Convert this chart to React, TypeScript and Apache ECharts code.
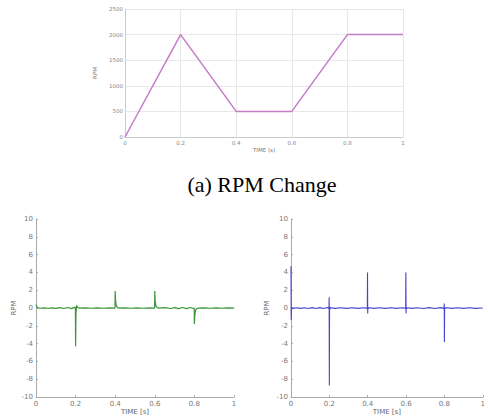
import React, { useEffect, useRef } from "react";
import * as echarts from "echarts";

const rpmTime = [0, 0.2, 0.4, 0.6, 0.8, 1];
const rpmValues = [0, 2000, 500, 500, 2000, 2000];

const errTimeA = [
  0, 0.003, 0.008, 0.02, 0.04, 0.06, 0.08, 0.1, 0.12, 0.14, 0.16, 0.18, 0.195, 0.199, 0.2, 0.202,
  0.205, 0.208, 0.212, 0.22, 0.25, 0.28, 0.31, 0.34, 0.37, 0.39, 0.399, 0.4, 0.402, 0.405,
  0.408, 0.412, 0.42, 0.45, 0.48, 0.51, 0.54, 0.57, 0.59, 0.599, 0.6, 0.602, 0.605, 0.608,
  0.612, 0.62, 0.65, 0.68, 0.7, 0.72, 0.74, 0.76, 0.78, 0.795, 0.799, 0.8, 0.802, 0.805,
  0.808, 0.812, 0.82, 0.85, 0.88, 0.91, 0.94, 0.97, 1,
];
const errValuesA = [
  0.4, 0.2, 0.05, -0.02, 0.02, -0.02, 0.03, -0.04, 0.05, -0.05, 0.06, -0.06, 0.08, 0.05, -4.3, -0.6,
  0.3, 0.15, 0.05, 0, 0.02, -0.02, 0.02, -0.02, 0.02, 0, 0, 1.9, 0.8, 0.35,
  0.15, 0.05, 0, 0.02, -0.02, 0.02, -0.02, 0.02, 0, 0, 1.9, 0.8, 0.35, 0.15,
  0.05, 0, 0.04, -0.05, 0.05, -0.06, 0.06, -0.06, 0.06, -0.05, 0, -1.8, -0.8, -0.35,
  -0.15, -0.05, 0, 0.02, -0.02, 0.02, -0.02, 0.01, 0,
];

const errTimeB = [
  0, 0.001, 0.003, 0.01, 0.03, 0.05, 0.07, 0.09, 0.11, 0.13, 0.15, 0.17, 0.19, 0.198, 0.199,
  0.2, 0.201, 0.204, 0.21, 0.23, 0.26, 0.29, 0.32, 0.35, 0.38, 0.398, 0.399, 0.4, 0.401,
  0.404, 0.41, 0.43, 0.46, 0.49, 0.52, 0.55, 0.58, 0.598, 0.599, 0.6, 0.601, 0.604, 0.61,
  0.63, 0.66, 0.69, 0.72, 0.75, 0.78, 0.798, 0.799, 0.8, 0.801, 0.804, 0.81, 0.84, 0.87,
  0.9, 0.93, 0.96, 1,
];
const errValuesB = [
  4.7, -1.3, 0.1, -0.04, 0.04, -0.04, 0.04, -0.05, 0.05, -0.05, 0.05, -0.06, 0.06, -0.06, 1.2,
  -8.7, 0.2, -0.08, 0.04, -0.04, 0.04, -0.04, 0.04, -0.04, 0.04, -0.04, 4.0, -0.6, 0.1,
  -0.04, 0.04, -0.04, 0.04, -0.04, 0.04, -0.04, 0.04, -0.04, 4.0, -0.6, 0.1, -0.04, 0.04,
  -0.04, 0.04, -0.05, 0.05, -0.05, 0.05, -0.04, 0.5, -3.8, 0.1, -0.04, 0.04, -0.04, 0.04,
  -0.04, 0.04, -0.04, 0,
];

const toPairs = (t: number[], v: number[]) => t.map((x, i) => [x, v[i]]);

export default function App() {
  const ref = useRef<HTMLDivElement>(null);
  useEffect(() => {
    if (!ref.current) return;
    const chart = echarts.init(ref.current, undefined, { renderer: "svg" });
    const smallLabel = { fontSize: 7, color: "#777", fontFamily: "DejaVu Sans" };
    const plain = (v: number) => String(Math.round(v * 10) / 10);
    const bottomX = (gridIndex: number) => ({
      type: "value",
      gridIndex,
      min: 0,
      max: 1,
      interval: 0.2,
      name: "TIME [s]",
      nameLocation: "middle",
      nameGap: 10,
      nameTextStyle: { fontSize: 7, color: "#666", fontFamily: "DejaVu Sans" },
      axisLine: { onZero: false, lineStyle: { color: "#aaa" } },
      axisTick: { inside: true, length: 2, lineStyle: { color: "#aaa" } },
      axisLabel: { ...smallLabel, margin: 3, formatter: plain },
      splitLine: { show: false },
    });
    const bottomY = (gridIndex: number, gap: number) => ({
      type: "value",
      gridIndex,
      min: -10,
      max: 10,
      interval: 2,
      name: "RPM",
      nameLocation: "middle",
      nameGap: gap,
      nameRotate: 90,
      nameTextStyle: { fontSize: 7, color: "#666", fontFamily: "DejaVu Sans" },
      axisLine: { show: true, lineStyle: { color: "#aaa" } },
      axisTick: { inside: true, length: 2, lineStyle: { color: "#aaa" } },
      axisLabel: { ...smallLabel, margin: 3, formatter: plain },
      splitLine: { show: false },
    });
    chart.setOption({
      animation: false,
      backgroundColor: "#fff",
      title: {
        text: "(a) RPM Change",
        left: 257,
        textAlign: "center",
        top: 168,
        textStyle: {
          fontSize: 22,
          fontWeight: "normal",
          color: "#000",
          fontFamily: "Liberation Serif",
        },
      },
      grid: [
        { left: 125, top: 9, width: 278, height: 128 },
        { left: 36, top: 219, width: 198, height: 180 },
        { left: 291, top: 219, width: 200, height: 180 },
      ],
      xAxis: [
        {
          type: "value",
          gridIndex: 0,
          min: 0,
          max: 1,
          interval: 0.2,
          name: "TIME (s)",
          nameLocation: "middle",
          nameGap: 8,
          nameTextStyle: { fontSize: 5.5, color: "#777", fontFamily: "DejaVu Sans" },
          axisLine: { lineStyle: { color: "#ccc" } },
          axisTick: { show: false },
          axisLabel: { fontSize: 5.5, color: "#888", margin: 3, fontFamily: "DejaVu Sans", formatter: plain },
          splitLine: { show: true, lineStyle: { color: "#e8e8e8" } },
        },
        bottomX(1),
        bottomX(2),
      ],
      yAxis: [
        {
          type: "value",
          gridIndex: 0,
          min: 0,
          max: 2500,
          interval: 500,
          name: "RPM",
          nameLocation: "middle",
          nameGap: 26,
          nameRotate: 90,
          nameTextStyle: { fontSize: 5.5, color: "#777", fontFamily: "DejaVu Sans" },
          axisLine: { show: true, lineStyle: { color: "#ccc" } },
          axisTick: { show: false },
          axisLabel: { fontSize: 5.5, color: "#888", margin: 2, fontFamily: "DejaVu Sans", formatter: (v: number) => String(v) },
          splitLine: { show: true, lineStyle: { color: "#e8e8e8" } },
        },
        bottomY(1, 19),
        bottomY(2, 21),
      ],
      series: [
        {
          type: "line",
          xAxisIndex: 0,
          yAxisIndex: 0,
          data: toPairs(rpmTime, rpmValues),
          symbol: "none",
          lineStyle: { color: "#c47cc8", width: 1.5 },
        },
        {
          type: "line",
          xAxisIndex: 1,
          yAxisIndex: 1,
          data: toPairs(errTimeA, errValuesA),
          symbol: "none",
          lineStyle: { color: "#3a953a", width: 1.2 },
        },
        {
          type: "line",
          xAxisIndex: 2,
          yAxisIndex: 2,
          data: toPairs(errTimeB, errValuesB),
          symbol: "none",
          lineStyle: { color: "#4444cc", width: 1.1 },
        },
      ],
    });
    return () => chart.dispose();
  }, []);
  return (
    <div
      ref={ref}
      style={{ position: "fixed", left: 0, top: 0, width: 488, height: 416 }}
    />
  );
}
